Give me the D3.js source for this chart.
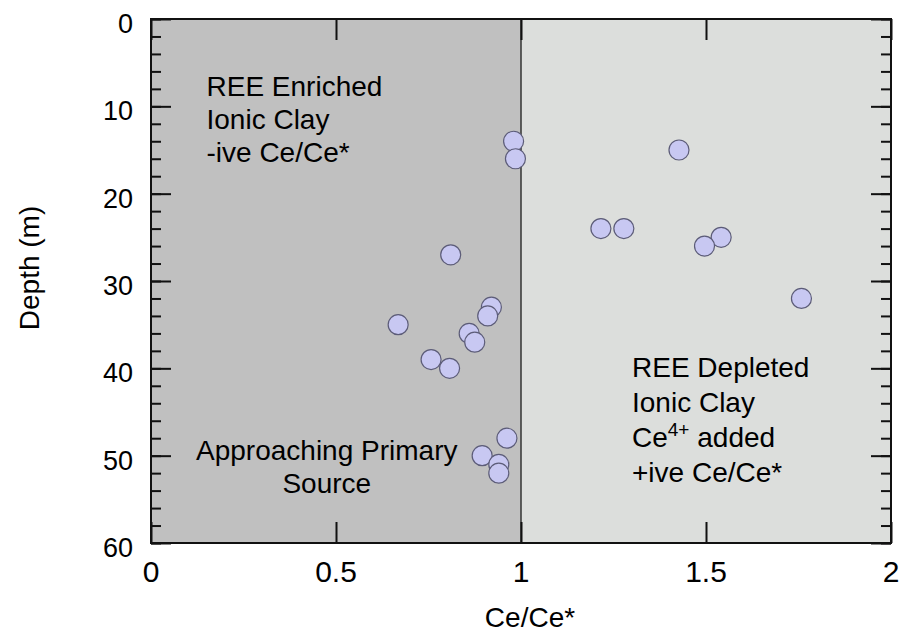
<!DOCTYPE html>
<html>
<head>
    <title>Ce/Ce* vs Depth</title>
    <script src="https://d3js.org/d3.v7.min.js"></script>
    <style>
        body { margin: 0; background: #fff; }
        text { font-family: "Liberation Sans", Arial, Helvetica, sans-serif; fill: #000; }
    </style>
</head>
<body>
    <div id="chart"></div>

    <script>
        // Data
        const ceRatio = [0.98, 0.985, 0.81, 0.92, 0.91, 0.86, 0.875, 0.757, 0.807, 0.668,
                         0.962, 0.895, 0.94, 0.94, 1.427, 1.216, 1.278, 1.541, 1.496, 1.758];
        const depth = [14, 16, 27, 33, 34, 36, 37, 39, 40, 35,
                       48, 50, 51, 52, 15, 24, 24, 25, 26, 32];
        const xTicks = [0, 0.5, 1, 1.5, 2];
        const xTickLabels = ["0", "0.5", "1", "1.5", "2"];
        const yTicks = [0, 10, 20, 30, 40, 50, 60];
        const yMinor = d3.range(0, 61, 2);
        const zones = [
            { from: 0, to: 1, color: "#c0c0c0" },
            { from: 1, to: 2, color: "#dcdedc" }
        ];

        const width = 901, height = 635;
        const margin = { top: 19, right: 10, bottom: 92, left: 151 };
        const iw = width - margin.left - margin.right;
        const ih = height - margin.top - margin.bottom;

        const svg = d3.select("#chart").append("svg")
            .attr("width", width)
            .attr("height", height);

        const g = svg.append("g").attr("transform", `translate(${margin.left},${margin.top})`);

        const x = d3.scaleLinear().domain([0, 2]).range([0, iw]);
        const y = d3.scaleLinear().domain([0, 60]).range([0, ih]);

        // shaded zones
        g.selectAll("rect.zone")
            .data(zones)
            .join("rect")
            .attr("class", "zone")
            .attr("x", d => x(d.from))
            .attr("y", 0)
            .attr("width", d => x(d.to) - x(d.from))
            .attr("height", ih)
            .attr("fill", d => d.color);

        // divider at Ce/Ce* = 1
        g.append("line")
            .attr("x1", x(1)).attr("x2", x(1))
            .attr("y1", 0).attr("y2", ih)
            .attr("stroke", "#333")
            .attr("stroke-width", 1.5);

        // ticks, all pointing inward
        const tickStyle = sel => sel.call(s => s.select(".domain").remove())
            .call(s => s.selectAll(".tick line").attr("stroke", "#111").attr("stroke-width", 2));

        g.append("g").attr("transform", `translate(0,${ih})`)
            .call(d3.axisBottom(x).tickValues(xTicks).tickSize(-21).tickFormat(""))
            .call(tickStyle);
        g.append("g")
            .call(d3.axisTop(x).tickValues(xTicks).tickSize(-21).tickFormat(""))
            .call(tickStyle);
        g.append("g")
            .call(d3.axisLeft(y).tickValues(yMinor).tickSize(-10).tickFormat(""))
            .call(tickStyle);
        g.append("g")
            .call(d3.axisLeft(y).tickValues(yTicks).tickSize(-20).tickFormat(""))
            .call(tickStyle);
        g.append("g").attr("transform", `translate(${iw},0)`)
            .call(d3.axisRight(y).tickValues(yMinor).tickSize(-10).tickFormat(""))
            .call(tickStyle);
        g.append("g").attr("transform", `translate(${iw},0)`)
            .call(d3.axisRight(y).tickValues(yTicks).tickSize(-20).tickFormat(""))
            .call(tickStyle);

        // frame
        g.append("rect")
            .attr("width", iw).attr("height", ih)
            .attr("fill", "none")
            .attr("stroke", "#111")
            .attr("stroke-width", 2);

        // tick labels
        g.selectAll("text.xl")
            .data(xTicks)
            .join("text")
            .attr("class", "xl")
            .attr("x", d => x(d))
            .attr("y", ih + 39)
            .attr("text-anchor", "middle")
            .attr("font-size", 30)
            .text((d, i) => xTickLabels[i]);

        g.selectAll("text.yl")
            .data(yTicks)
            .join("text")
            .attr("class", "yl")
            .attr("x", -18)
            .attr("y", d => y(d) + 14)
            .attr("text-anchor", "end")
            .attr("font-size", 27)
            .text(d => d);

        // axis titles
        svg.append("text")
            .attr("x", 530)
            .attr("y", 627)
            .attr("text-anchor", "middle")
            .attr("font-size", 28)
            .text("Ce/Ce*");

        svg.append("text")
            .attr("transform", "translate(39,268) rotate(-90)")
            .attr("text-anchor", "middle")
            .attr("font-size", 28)
            .text("Depth (m)");

        // annotations
        const note = (lines, px, py, anchor, step) => {
            const t = g.append("g");
            lines.forEach((ln, i) => {
                const txt = t.append("text")
                    .attr("x", px)
                    .attr("y", py + i * step)
                    .attr("text-anchor", anchor)
                    .attr("font-size", 28);
                ln.forEach(part => {
                    const span = txt.append("tspan").text(part.t);
                    if (part.sup) span.attr("font-size", 19).attr("dy", -11);
                    if (part.down) span.attr("dy", 11);
                });
            });
        };

        note([[{ t: "REE Enriched" }], [{ t: "Ionic Clay" }], [{ t: "-ive Ce/Ce*" }]],
            x(0.15), 77, "start", 33);
        note([[{ t: "Approaching Primary" }], [{ t: "Source" }]],
            x(0.475), 441, "middle", 33);
        note([[{ t: "REE Depleted" }], [{ t: "Ionic Clay" }],
              [{ t: "Ce" }, { t: "4+", sup: true }, { t: " added", down: true }],
              [{ t: "+ive Ce/Ce*" }]],
            x(1.3), 358, "start", 35);

        // data points
        g.selectAll("circle.pt")
            .data(ceRatio.map((v, i) => ({ v, d: depth[i] })))
            .join("circle")
            .attr("class", "pt")
            .attr("cx", p => x(p.v))
            .attr("cy", p => y(p.d))
            .attr("r", 10)
            .attr("fill", "#c8c8f2")
            .attr("stroke", "#5c5c78")
            .attr("stroke-width", 1.2);
    </script>
</body>
</html>
